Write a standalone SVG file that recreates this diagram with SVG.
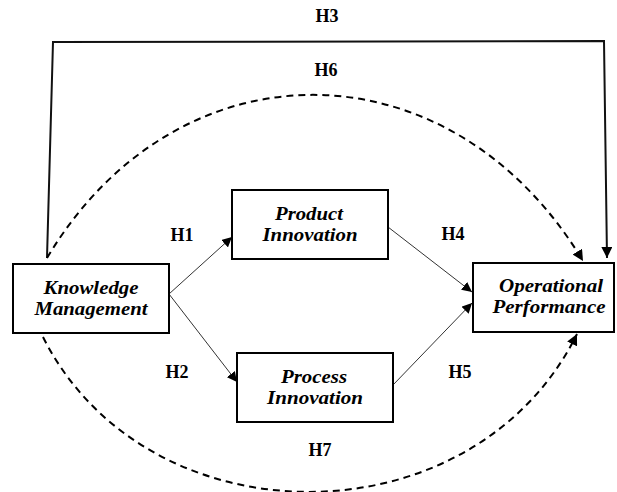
<svg xmlns="http://www.w3.org/2000/svg" width="617" height="492" viewBox="0 0 617 492">
<style>
.box{fill:#fff;stroke:#000;stroke-width:2}
.nt{font-family:"Liberation Serif","Times New Roman",serif;font-weight:bold;font-style:italic;font-size:18px;fill:#000;text-anchor:middle}
.hl{font-family:"Liberation Serif","Times New Roman",serif;font-weight:bold;font-size:18px;fill:#000;text-anchor:middle}
.thin{fill:none;stroke:#333;stroke-width:1}
.solid{fill:none;stroke:#111;stroke-width:2}
.dash{fill:none;stroke:#000;stroke-width:2;stroke-dasharray:7 5}
</style>
<defs>
<marker id="ah" viewBox="0 0 10 10" refX="10" refY="5" markerWidth="10" markerHeight="10" markerUnits="userSpaceOnUse" orient="auto">
<path d="M0,0 L10,5 L0,10 z" fill="#000"/>
</marker>
<marker id="ahb" viewBox="0 0 10 10" refX="10" refY="5" markerWidth="11" markerHeight="11" markerUnits="userSpaceOnUse" orient="auto">
<path d="M0,0 L10,5 L0,10 z" fill="#000"/>
</marker>
</defs>
<g id="connectors">
<polyline class="solid" points="47,258 53,42 604,41 607,258" marker-end="url(#ahb)"/>
<path class="dash" d="M47,258 C177,40 450,40 583,261" marker-end="url(#ahb)"/>
<path class="dash" d="M43,337 C147,544 473,544 577,334" marker-end="url(#ahb)"/>
<line class="thin" x1="169" y1="294" x2="232" y2="237" marker-end="url(#ah)"/>
<line class="thin" x1="169" y1="294" x2="237" y2="382" marker-end="url(#ah)"/>
<line class="thin" x1="388" y1="227" x2="472" y2="292" marker-end="url(#ah)"/>
<line class="thin" x1="393" y1="385" x2="472" y2="303" marker-end="url(#ah)"/>
</g>
<g id="labels">
<text class="hl" x="327" y="22">H3</text>
<text class="hl" x="326" y="76">H6</text>
<text class="hl" x="182" y="241">H1</text>
<text class="hl" x="177" y="378">H2</text>
<text class="hl" x="453" y="240">H4</text>
<text class="hl" x="460" y="378">H5</text>
<text class="hl" x="320" y="456">H7</text>
</g>
<g id="km">
<rect class="box" x="13" y="264" width="156" height="69"/>
<text class="nt" x="91" y="294" textLength="95" lengthAdjust="spacingAndGlyphs">Knowledge</text>
<text class="nt" x="91" y="315" textLength="113" lengthAdjust="spacingAndGlyphs">Management</text>
</g>
<g id="product">
<rect class="box" x="232" y="190" width="156" height="69"/>
<text class="nt" x="309" y="220" textLength="68" lengthAdjust="spacingAndGlyphs">Product</text>
<text class="nt" x="310" y="241" textLength="95" lengthAdjust="spacingAndGlyphs">Innovation</text>
</g>
<g id="process">
<rect class="box" x="237" y="353" width="156" height="69"/>
<text class="nt" x="314" y="383" textLength="66" lengthAdjust="spacingAndGlyphs">Process</text>
<text class="nt" x="315" y="404" textLength="96" lengthAdjust="spacingAndGlyphs">Innovation</text>
</g>
<g id="op">
<rect class="box" x="473" y="263" width="141" height="69"/>
<text class="nt" x="551" y="292" textLength="104" lengthAdjust="spacingAndGlyphs">Operational</text>
<text class="nt" x="549" y="313" textLength="113" lengthAdjust="spacingAndGlyphs">Performance</text>
</g>
</svg>
